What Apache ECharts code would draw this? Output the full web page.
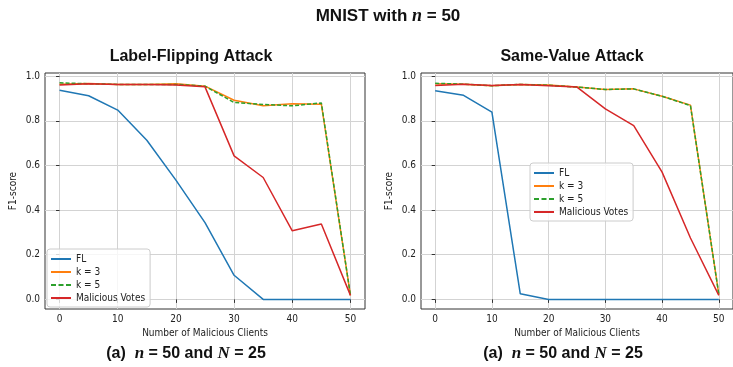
<!DOCTYPE html>
<html>
<head>
<meta charset="utf-8">
<script src="https://cdn.jsdelivr.net/npm/echarts@6/dist/echarts.min.js"></script>
<style>
  html, body { margin: 0; padding: 0; background: #fff; }
  #chart { width: 733px; height: 367px; }
</style>
</head>
<body>
<div id="chart"></div>
<script>
// clients count on the x axis
const clients = [0, 5, 10, 15, 20, 25, 30, 35, 40, 45, 50];
const xTicks = [0, 10, 20, 30, 40, 50];
const yTicks = [0, 0.2, 0.4, 0.6, 0.8, 1.0];

// Label-Flipping Attack
const lfFL = [0.937, 0.912, 0.848, 0.713, 0.534, 0.344, 0.108, 0, 0, 0, 0];
const lfK3 = [0.964, 0.967, 0.963, 0.963, 0.966, 0.955, 0.892, 0.867, 0.876, 0.874, 0.018];
const lfK5 = [0.970, 0.966, 0.963, 0.963, 0.963, 0.955, 0.882, 0.873, 0.867, 0.880, 0.018];
const lfMV = [0.960, 0.966, 0.963, 0.963, 0.960, 0.952, 0.643, 0.546, 0.307, 0.338, 0.018];

// Same-Value Attack
const svFL = [0.935, 0.914, 0.839, 0.025, 0, 0, 0, 0, 0, 0, 0];
const svK3 = [0.966, 0.964, 0.957, 0.963, 0.960, 0.951, 0.940, 0.943, 0.910, 0.870, 0.022];
const svK5 = [0.968, 0.964, 0.957, 0.963, 0.959, 0.951, 0.940, 0.943, 0.910, 0.868, 0.022];
const svMV = [0.958, 0.964, 0.958, 0.963, 0.957, 0.951, 0.853, 0.778, 0.570, 0.275, 0.018];

const seriesNames = ['FL', 'k = 3', 'k = 5', 'Malicious Votes'];
const colors = ['#1f77b4', '#ff7f0e', '#2ca02c', '#d62728'];

const tickFont = "'DejaVu Sans Condensed', 'DejaVu Sans', sans-serif";
const boldFont = "'Liberation Sans', Arial, sans-serif";

const solidIcon = 'rect';
const dashIcon = 'path://M0,0h5v2h-5z M7.5,0h5v2h-5z M15,0h5v2h-5z';

function pairs(ys) {
  return clients.map((x, i) => [x, ys[i]]);
}

function makeX(idx) {
  return {
    type: 'value', gridIndex: idx, min: -2.5, max: 52.5,
    name: 'Number of Malicious Clients', nameLocation: 'middle', nameGap: 18,
    nameTextStyle: { fontSize: 10, color: '#222', fontFamily: tickFont },
    axisLine: { show: false },
    axisTick: { show: true, length: 3.5, customValues: xTicks, lineStyle: { color: '#333' } },
    axisLabel: { customValues: xTicks, fontSize: 10, color: '#222', margin: 5, fontFamily: tickFont },
    splitLine: { show: true, lineStyle: { color: '#d3d3d3', width: 1 } }
  };
}

function makeY(idx) {
  return {
    type: 'value', gridIndex: idx, min: -0.043, max: 1.014,
    name: 'F1-score', nameLocation: 'middle', nameGap: 27,
    nameTextStyle: { fontSize: 10, color: '#222', fontFamily: tickFont },
    axisLine: { show: false },
    axisTick: { show: true, length: 3.5, customValues: yTicks, lineStyle: { color: '#333' } },
    axisLabel: {
      customValues: yTicks, fontSize: 10, color: '#222', margin: 5, fontFamily: tickFont,
      formatter: (v) => v.toFixed(1)
    },
    splitLine: { show: true, lineStyle: { color: '#d3d3d3', width: 1 } }
  };
}

function makeSeries(idx, data) {
  return data.map((ys, i) => ({
    name: seriesNames[i],
    type: 'line',
    xAxisIndex: idx, yAxisIndex: idx,
    data: pairs(ys),
    symbol: 'none',
    silent: true,
    z: 2 + i,
    lineStyle: { color: colors[i], width: 1.5, type: i === 2 ? [4, 2] : 'solid' },
    itemStyle: { color: colors[i] }
  }));
}

function makeLegend(left, top) {
  return {
    orient: 'vertical', left: left, top: top,
    data: seriesNames.map((n, i) => ({ name: n, icon: i === 2 ? dashIcon : solidIcon })),
    itemWidth: 20, itemHeight: 2, itemGap: 1,
    padding: [4, 5, 3, 4],
    backgroundColor: 'rgba(255,255,255,0.8)',
    borderColor: '#ccc', borderWidth: 1, borderRadius: 3,
    textStyle: { fontSize: 10, color: '#222', fontFamily: tickFont, lineHeight: 12 }
  };
}

function richText(x, y, text, size) {
  return {
    type: 'text', x: x, y: y,
    style: {
      text: text,
      textAlign: 'center', textVerticalAlign: 'middle',
      rich: {
        b: { fontFamily: boldFont, fontWeight: 'bold', fontSize: size, fill: '#111' },
        i: { fontFamily: "'Liberation Serif', serif", fontStyle: 'italic', fontWeight: 'bold', fontSize: size + 1, fill: '#111' }
      }
    }
  };
}

const option = {
  animation: false,
  grid: [
    { left: 45, right: 368, top: 73, bottom: 58, show: true, borderColor: '#333', borderWidth: 1 },
    { left: 421, right: -9, top: 73, bottom: 58, show: true, borderColor: '#333', borderWidth: 1 }
  ],
  xAxis: [makeX(0), makeX(1)],
  yAxis: [makeY(0), makeY(1)],
  legend: [makeLegend(47, 249), makeLegend(530, 163)],
  series: makeSeries(0, [lfFL, lfK3, lfK5, lfMV]).concat(makeSeries(1, [svFL, svK3, svK5, svMV])),
  graphic: [
    richText(388, 16, '{b|MNIST with }{i|n}{b| = 50}', 17),
    richText(191, 57, '{b|Label-Flipping Attack}', 16),
    richText(572, 57, '{b|Same-Value Attack}', 16),
    richText(186, 354, '{b|(a)  }{i|n}{b| = 50 and }{i|N}{b| = 25}', 16),
    richText(563, 354, '{b|(a)  }{i|n}{b| = 50 and }{i|N}{b| = 25}', 16)
  ]
};

const chart = echarts.init(document.getElementById('chart'));
chart.setOption(option);
window.addEventListener('resize', () => chart.resize());
</script>
</body>
</html>
